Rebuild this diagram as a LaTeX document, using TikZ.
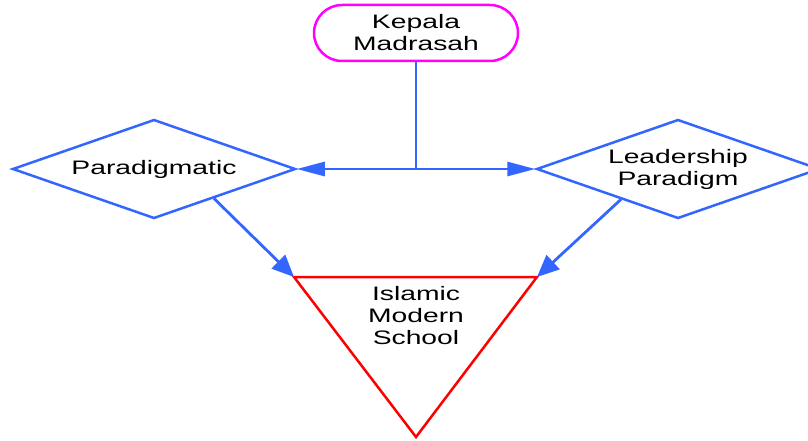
\documentclass[tikz,border=0pt]{standalone}
\usepackage{fontspec}
\setmainfont{Liberation Sans}[FakeStretch=1.45]
\usetikzlibrary{shapes.geometric,arrows.meta,calc}
\definecolor{lineblue}{RGB}{51,102,255}
\definecolor{headpink}{RGB}{255,0,255}
\definecolor{schoolred}{RGB}{255,0,0}

\begin{document}
\begin{tikzpicture}[x=1pt,y=-1pt,
  every node/.style={font=\fontsize{19.5}{22}\selectfont, align=center, inner sep=0pt},
  headbox/.style={draw=headpink, line width=2.5pt, rounded corners=28pt,
    minimum width=204pt, minimum height=56pt},
  diabox/.style={diamond, draw=lineblue, line width=2.5pt, aspect=2.86,
    minimum width=283pt, minimum height=99pt},
  link/.style={draw=lineblue, line width=2.8pt},
  hlink/.style={link, -{Triangle[length=28pt,width=14pt]}},
  dlink/.style={link, -{Triangle[length=22pt,width=19pt]}}]
\clip (0,0) rectangle (808,441);
\node[headbox] (kepala) at (416,33) {Kepala\\Madrasah};
\node[diabox] (parad) at (154,169) {Paradigmatic};
\node[diabox] (leader) at (678,169) {Leadership\\Paradigm};
\coordinate (split) at (416,169);
\coordinate (tl) at (294,277);
\coordinate (tr) at (537,277);
\coordinate (tb) at (416,437);
\draw[schoolred, line width=2.5pt] (tl) -- (tr) -- (tb) -- cycle;
\node (school) at (416,316) {Islamic\\Modern\\School};
\draw[link] (kepala) -- (split);
\draw[hlink] (split) -- (parad.east);
\draw[hlink] (split) -- (leader.west);
\draw[dlink] ($(parad.east)!0.58!(parad.south)$) -- (tl);
\draw[dlink] ($(leader.west)!0.6!(leader.south)$) -- (tr);
\end{tikzpicture}
\end{document}
